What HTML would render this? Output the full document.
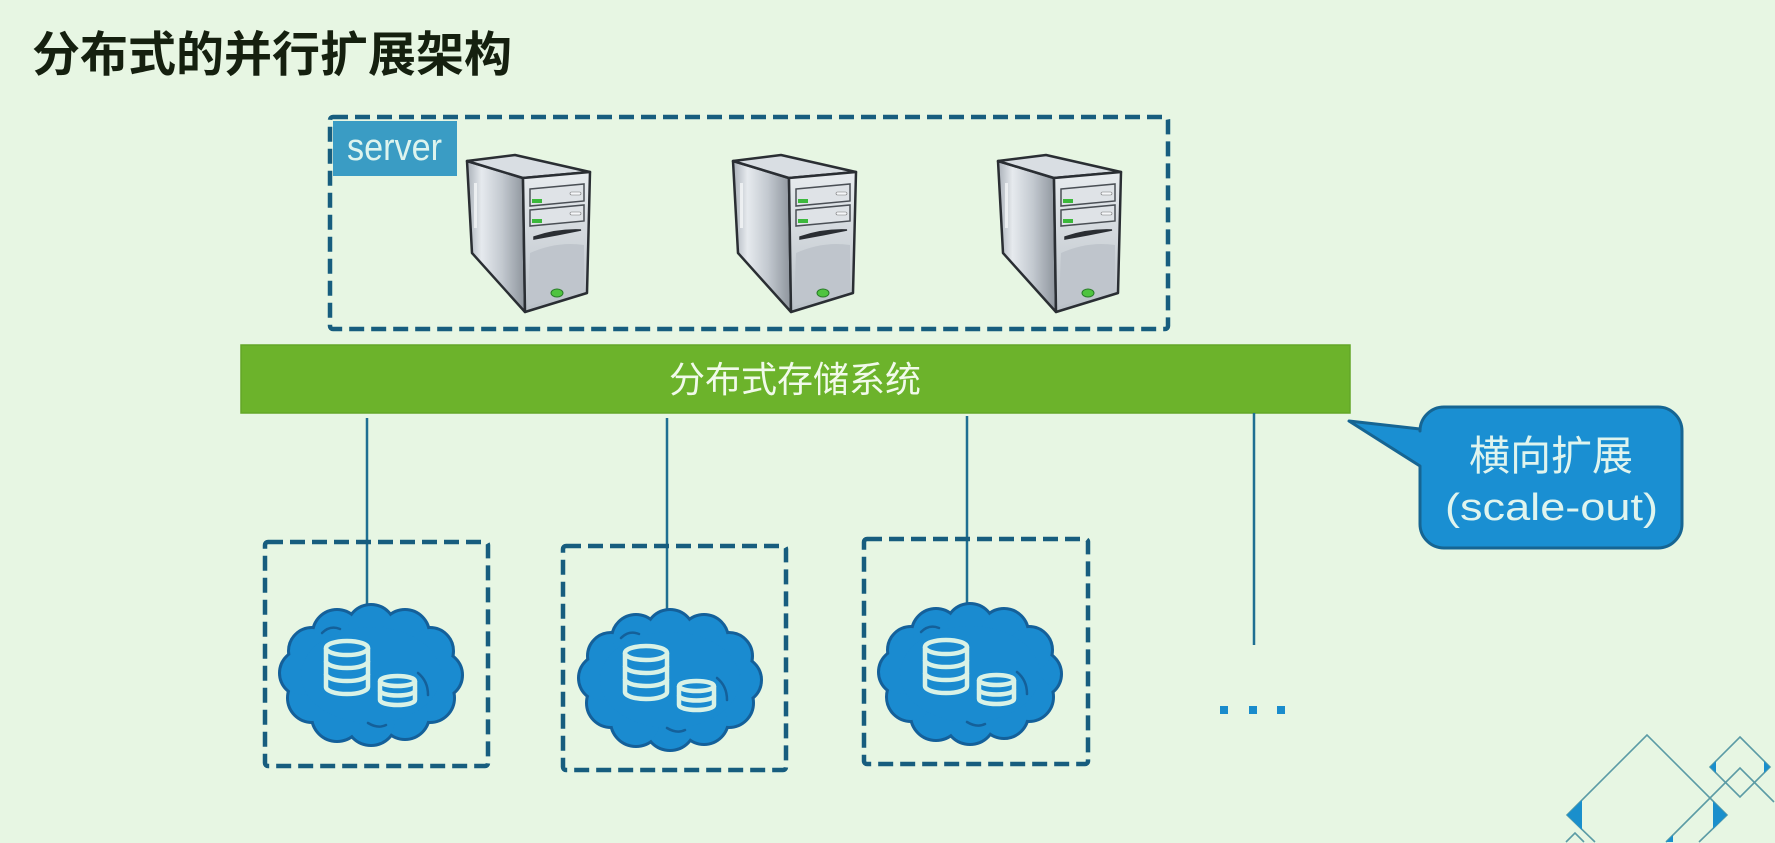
<!DOCTYPE html>
<html>
<head>
<meta charset="utf-8">
<style>
html,body{margin:0;padding:0;background:#e7f6e3;}
body{width:1775px;height:843px;overflow:hidden;}
svg{display:block;overflow:hidden;}
text{font-family:"Liberation Sans","Noto Sans CJK SC",sans-serif;}
</style>
</head>
<body>
<svg width="1775" height="843" viewBox="0 0 1775 843" xmlns="http://www.w3.org/2000/svg">
<defs>
  <linearGradient id="side" x1="0" y1="0" x2="1" y2="0">
    <stop offset="0" stop-color="#a9b0b8"/>
    <stop offset="0.25" stop-color="#e6eaee"/>
    <stop offset="0.6" stop-color="#c3c9d0"/>
    <stop offset="1" stop-color="#8d949c"/>
  </linearGradient>
  <linearGradient id="front" x1="0" y1="0" x2="0" y2="1">
    <stop offset="0" stop-color="#e8ecef"/>
    <stop offset="1" stop-color="#b9c0c7"/>
  </linearGradient>
  <g id="srv">
    <polygon points="3,8 59,25 61,159 8,100" fill="url(#side)" stroke="#2a2e33" stroke-width="2.5" stroke-linejoin="round"/>
    <rect x="10" y="30" width="3" height="45" fill="#f4f6f8" opacity="0.8"/>
    <polygon points="3,8 51,2 126,19 59,25" fill="#d9dee3" stroke="#2a2e33" stroke-width="2.5" stroke-linejoin="round"/>
    <polygon points="59,25 126,19 123,140 61,159" fill="url(#front)" stroke="#2a2e33" stroke-width="2.5" stroke-linejoin="round"/>
    <path d="M66,100 Q93,88 120,92 L120,137 L64,153 Z" fill="#bfc5cc"/>
    <polygon points="66,36 120,31 120,48 66,53" fill="#dfe3e7" stroke="#4a4f55" stroke-width="1.5"/>
    <rect x="68" y="46" width="10" height="4" fill="#3cb83c"/>
    <rect x="106" y="39" width="11" height="3" rx="1.5" fill="#f5f7f9" stroke="#777" stroke-width="0.6"/>
    <polygon points="66,57 120,52 120,68 66,73" fill="#dfe3e7" stroke="#4a4f55" stroke-width="1.5"/>
    <rect x="68" y="66" width="10" height="4" fill="#3cb83c"/>
    <rect x="106" y="59" width="11" height="3" rx="1.5" fill="#f5f7f9" stroke="#777" stroke-width="0.6"/>
    <path d="M70,84 Q93,76 117,77 Q93,82 70,86 Z" fill="#2a2e33" stroke="#2a2e33" stroke-width="1.5"/>
    <ellipse cx="93" cy="140" rx="6" ry="4" fill="#4fc43f" stroke="#2a7a2a" stroke-width="1"/>
  </g>
  <g id="bumps">
    <circle cx="161" cy="72" r="22"/>
    <circle cx="152" cy="95" r="23"/>
    <circle cx="127" cy="112" r="23"/>
    <circle cx="93" cy="117" r="24"/>
    <circle cx="59" cy="113" r="24"/>
    <circle cx="34" cy="95" r="23"/>
    <circle cx="25" cy="70" r="22"/>
    <circle cx="34" cy="48" r="22"/>
    <circle cx="59" cy="31" r="23"/>
    <circle cx="93" cy="26" r="23"/>
    <circle cx="127" cy="31" r="23"/>
    <circle cx="152" cy="48" r="22"/>
  </g>
  <g id="cloud">
    <use href="#bumps" fill="#1a8bd0" stroke="#14609a" stroke-width="6"/>
    <use href="#bumps" fill="#1a8bd0"/>
    <ellipse cx="93" cy="72" rx="70" ry="48" fill="#1a8bd0"/>
    <g fill="none" stroke="#14609a" stroke-width="2.5" stroke-linecap="round">
      <path d="M44,30 Q52,22 62,26"/>
      <path d="M140,70 Q150,78 150,92"/>
      <path d="M90,120 Q100,126 108,122"/>
    </g>
    <g fill="none" stroke="#d9f2e6" stroke-width="4.5">
      <g transform="translate(46,37)">
        <ellipse cx="23" cy="8" rx="21" ry="7"/>
        <path d="M2,8 V47 A21,7 0 0 0 44,47 V8"/>
        <path d="M2,21 A21,7 0 0 0 44,21"/>
        <path d="M2,34 A21,7 0 0 0 44,34"/>
      </g>
      <g transform="translate(100,72)">
        <ellipse cx="19.5" cy="6" rx="17.5" ry="5"/>
        <path d="M2,6 V25 A17.5,5 0 0 0 37,25 V6"/>
        <path d="M2,15.5 A17.5,5 0 0 0 37,15.5"/>
      </g>
    </g>
  </g>
</defs>

<rect width="1775" height="843" fill="#e7f6e3"/>

<!-- title -->
<text x="32" y="71" font-size="48" font-weight="700" fill="#15200f" style="font-family:'Noto Sans CJK SC','Liberation Sans',sans-serif;">分布式的并行扩展架构</text>

<!-- server box -->
<rect x="330" y="117" width="838" height="212" rx="3" fill="none" stroke="#175d7e" stroke-width="4.5" stroke-dasharray="15 7"/>
<rect x="333" y="121" width="124" height="55" fill="#3a9cc4"/>
<text x="347" y="160" font-size="38" fill="#ddf4ee" textLength="95" lengthAdjust="spacingAndGlyphs">server</text>

<use href="#srv" x="464" y="153"/>
<use href="#srv" x="730" y="153"/>
<use href="#srv" x="995" y="153"/>

<!-- green bar -->
<rect x="241" y="345" width="1109" height="68" fill="#6cb32b" stroke="#63a628" stroke-width="1.5"/>
<text x="795" y="392" font-size="36" fill="#f1faea" text-anchor="middle" style="font-family:'Noto Sans CJK SC','Liberation Sans',sans-serif;">分布式存储系统</text>

<!-- connectors -->
<g stroke="#1f6f92" stroke-width="2.5">
  <line x1="367" y1="418" x2="367" y2="612"/>
  <line x1="667" y1="418" x2="667" y2="615"/>
  <line x1="967" y1="416" x2="967" y2="608"/>
  <line x1="1254" y1="413" x2="1254" y2="645"/>
</g>

<!-- lower boxes -->
<g fill="none" stroke="#175d7e" stroke-width="4.5" stroke-dasharray="15 7">
  <rect x="265" y="542" width="223" height="224" rx="3"/>
  <rect x="563" y="546" width="223" height="224" rx="3"/>
  <rect x="864" y="539" width="224" height="225" rx="3"/>
</g>

<use href="#cloud" x="278" y="603"/>
<use href="#cloud" x="577" y="608"/>
<use href="#cloud" x="877" y="602"/>

<!-- dots -->
<g fill="#1a8ccc">
  <rect x="1220" y="706" width="8" height="8"/>
  <rect x="1249" y="706" width="8" height="8"/>
  <rect x="1277" y="706" width="8" height="8"/>
</g>

<!-- callout -->
<path d="M1444,407 H1658 A24,24 0 0 1 1682,431 V524 A24,24 0 0 1 1658,548 H1444 A24,24 0 0 1 1420,524 V466 L1349,421 L1420,429 V431 A24,24 0 0 1 1444,407 Z" fill="#1a8fd2" stroke="#166593" stroke-width="3" stroke-linejoin="round"/>
<text x="1551" y="470" font-size="41" fill="#dff4ee" text-anchor="middle" style="font-family:'Noto Sans CJK SC','Liberation Sans',sans-serif;">横向扩展</text>
<text x="1445" y="520" font-size="38" fill="#dff4ee" textLength="213" lengthAdjust="spacingAndGlyphs">(scale-out)</text>

<!-- decoration (pre-clipped to frame) -->
<g fill="none" stroke="#5b9ba5" stroke-width="1.6">
  <polyline points="1595,842 1567,815 1647,735 1727,815 1699,842"/>
  <polygon points="1740,737 1770,767 1740,797 1710,767"/>
  <polyline points="1666,842 1740,768 1774,802"/>
  <polyline points="1566,842 1575,833 1584,842"/>
</g>
<g fill="#1a8fcc">
  <polygon points="1567,815 1582,800 1582,830"/>
  <polygon points="1727,815 1713,801 1713,829"/>
  <polygon points="1710,767 1716,761 1716,773"/>
  <polygon points="1770,767 1764,761 1764,773"/>
  <polygon points="1666,842 1673,835 1673,842"/>
</g>
</svg>
</body>
</html>
